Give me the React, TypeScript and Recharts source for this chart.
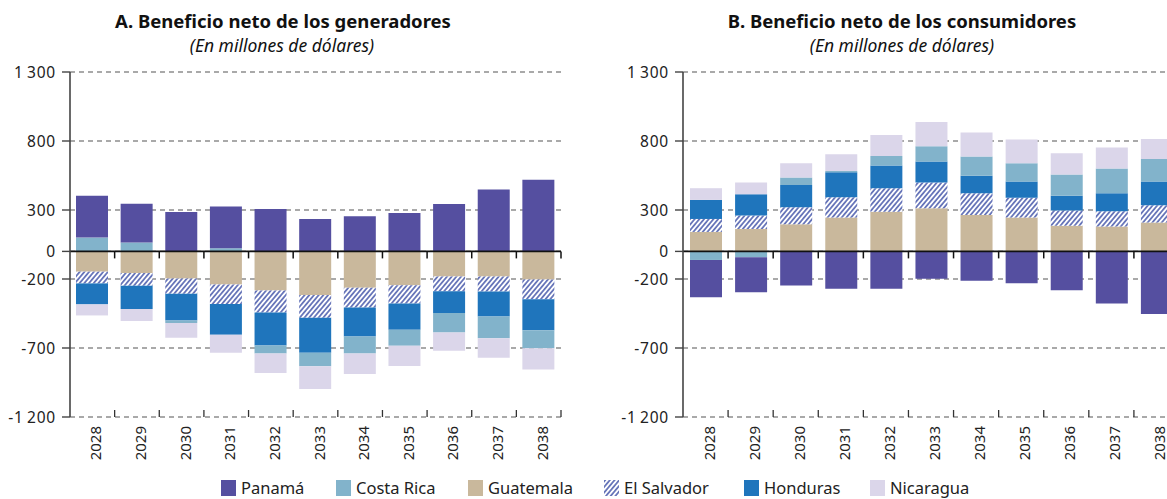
import React from "react";
import { BarChart, Bar, XAxis, YAxis, CartesianGrid, ReferenceLine } from "recharts";

// Categories
const years = ["2028", "2029", "2030", "2031", "2032", "2033", "2034", "2035", "2036", "2037", "2038"];

// A. Beneficio neto de los generadores (millones de dólares)
const genPanama = [304, 280, 285, 304, 307, 234, 254, 278, 343, 449, 519];
const genCostaRica = [100, 65, -19, 22, -58, -99, -123, -116, -140, -159, -129];
const genGuatemala = [-147, -157, -196, -239, -283, -316, -263, -246, -181, -181, -203];
const genElSalvador = [-85, -92, -111, -143, -159, -165, -143, -131, -107, -109, -143];
const genHonduras = [-152, -169, -193, -222, -239, -253, -210, -191, -159, -181, -226];
const genNicaragua = [-80, -87, -107, -130, -143, -165, -150, -147, -133, -140, -154];

// B. Beneficio neto de los consumidores (millones de dólares)
const conPanama = [-270, -254, -248, -270, -270, -199, -212, -230, -281, -378, -453];
const conCostaRica = [-62, -42, 53, 8, 70, 111, 138, 133, 153, 178, 164];
const conGuatemala = [141, 163, 197, 245, 288, 313, 264, 245, 185, 180, 209];
const conElSalvador = [94, 97, 123, 148, 170, 186, 158, 143, 111, 111, 126];
const conHonduras = [138, 154, 162, 181, 164, 152, 127, 118, 108, 131, 171];
const conNicaragua = [85, 85, 104, 122, 152, 176, 174, 171, 155, 152, 145];

// Y axis ticks
const yTicks = [-1200, -700, -200, 0, 300, 800, 1300];

// Series (stack order chosen so positives/negatives pile up like the original)
const series = [
  { key: "guatemala", name: "Guatemala", fill: "#c9b89c" },
  { key: "elsalvador", name: "El Salvador", fill: "url(#hatch)" },
  { key: "honduras", name: "Honduras", fill: "#1f75bc" },
  { key: "costarica", name: "Costa Rica", fill: "#82b3cb" },
  { key: "panama", name: "Panamá", fill: "#554fa0" },
  { key: "nicaragua", name: "Nicaragua", fill: "#dbd6ea" },
];

const legendOrder = ["panama", "costarica", "guatemala", "elsalvador", "honduras", "nicaragua"];
const legendX = [221, 336, 468, 604, 744, 870];

const buildRows = (p: number[], cr: number[], g: number[], es: number[], h: number[], n: number[]) =>
  years.map((year, i) => ({
    year,
    panama: p[i],
    costarica: cr[i],
    guatemala: g[i],
    elsalvador: es[i],
    honduras: h[i],
    nicaragua: n[i],
  }));

const genData = buildRows(genPanama, genCostaRica, genGuatemala, genElSalvador, genHonduras, genNicaragua);
const conData = buildRows(conPanama, conCostaRica, conGuatemala, conElSalvador, conHonduras, conNicaragua);

const fmtTick = (v: number) => {
  const abs = Math.abs(v);
  const s = abs >= 1000 ? `${Math.floor(abs / 1000)}\u2009${String(abs % 1000).padStart(3, "0")}` : String(abs);
  return v < 0 ? `-${s}` : s;
};

const YearTick = ({ x, y, payload }: any) => (
  <text
    x={x}
    y={y}
    transform={`rotate(-90 ${x} ${y})`}
    textAnchor="end"
    dy="0.6em"
    fontSize={15}
    fill="#222"
  >
    {payload.value}
  </text>
);

// axis line at zero with category ticks pointing down
const ZeroLine = (props: any) => {
  const { x1, x2, y1 } = props;
  const step = (x2 - x1) / years.length;
  return (
    <g>
      <line x1={x1} x2={x2} y1={y1} y2={y1} stroke="#111" strokeWidth={1.6} />
      {years.map((_, i) => (
        <line key={i} x1={x1 + step * (i + 1)} x2={x1 + step * (i + 1)} y1={y1} y2={y1 + 7} stroke="#111" strokeWidth={1.5} />
      ))}
    </g>
  );
};

// bottom dashed line with category ticks pointing up
const BottomTicks = (props: any) => {
  const { x1, x2, y1 } = props;
  const step = (x2 - x1) / years.length;
  return (
    <g>
      {years.map((_, i) => (
        <line key={i} x1={x1 + step * (i + 1)} x2={x1 + step * (i + 1)} y1={y1} y2={y1 - 7} stroke="#333" strokeWidth={1.3} />
      ))}
    </g>
  );
};

function Panel({ data, width }: { data: any[]; width: number }) {
  return (
    <BarChart
      width={width}
      height={470}
      data={data}
      stackOffset="sign"
      barSize={32}
      margin={{ top: 72, right: 10, bottom: 0, left: 0 }}
    >
      <CartesianGrid vertical={false} stroke="#555" strokeDasharray="5 4" strokeWidth={1.2} />
      <XAxis
        dataKey="year"
        axisLine={false}
        tickLine={false}
        interval={0}
        height={53}
        tickMargin={3}
        tick={<YearTick />}
      />
      <YAxis
        type="number"
        domain={[-1200, 1300]}
        ticks={yTicks}
        interval={0}
        width={70}
        tickSize={8}
        tickMargin={6}
        tickFormatter={fmtTick}
        axisLine={{ stroke: "#444", strokeWidth: 1.6 }}
        tickLine={{ stroke: "#444", strokeWidth: 1.4 }}
        tick={{ fontSize: 15.5, fill: "#222", letterSpacing: 0.8 }}
      />
      {series.map((s) => (
        <Bar key={s.key} dataKey={s.key} name={s.name} stackId="a" fill={s.fill} isAnimationActive={false} />
      ))}
      <ReferenceLine y={-1200} shape={<BottomTicks />} />
      <ReferenceLine y={0} shape={<ZeroLine />} />
    </BarChart>
  );
}

export default function App() {
  return (
    <div
      style={{
        position: "absolute",
        left: 0,
        top: 0,
        width: 1167,
        height: 499,
        overflow: "hidden",
        background: "#fff",
        fontFamily: '"Noto Sans", sans-serif',
      }}
    >
      <svg width={0} height={0} style={{ position: "absolute" }}>
        <defs>
          <pattern id="hatch" patternUnits="userSpaceOnUse" width={3.6} height={3.6} patternTransform="rotate(40)">
            <rect width={3.6} height={3.6} fill="#fff" />
            <line x1={1.8} y1={0} x2={1.8} y2={3.6} stroke="#3d4fa6" strokeWidth={1.4} />
          </pattern>
        </defs>
      </svg>

      <div style={{ position: "absolute", left: 0, top: 0 }}>
        <Panel data={genData} width={571} />
      </div>
      <div style={{ position: "absolute", left: 613, top: 0 }}>
        <Panel data={conData} width={576} />
      </div>

      <svg width={1167} height={499} style={{ position: "absolute", left: 0, top: 0, pointerEvents: "none" }}>
        <text x={283} y={28} textAnchor="middle" fontSize={18.5} fontWeight={700} fill="#111">
          A. Beneficio neto de los generadores
        </text>
        <text x={282} y={52} textAnchor="middle" fontSize={17.5} fontStyle="italic" fill="#111">
          (En millones de dólares)
        </text>
        <text x={902} y={28} textAnchor="middle" fontSize={18.5} fontWeight={700} fill="#111">
          B. Beneficio neto de los consumidores
        </text>
        <text x={902} y={52} textAnchor="middle" fontSize={17.5} fontStyle="italic" fill="#111">
          (En millones de dólares)
        </text>

        {legendOrder.map((key, i) => {
          const s = series.find((d) => d.key === key)!;
          return (
            <g key={key}>
              <rect x={legendX[i]} y={480} width={15} height={16} fill={s.fill} />
              <text x={legendX[i] + 20} y={494} fontSize={16.5} fill="#222">
                {s.name}
              </text>
            </g>
          );
        })}
      </svg>
    </div>
  );
}
